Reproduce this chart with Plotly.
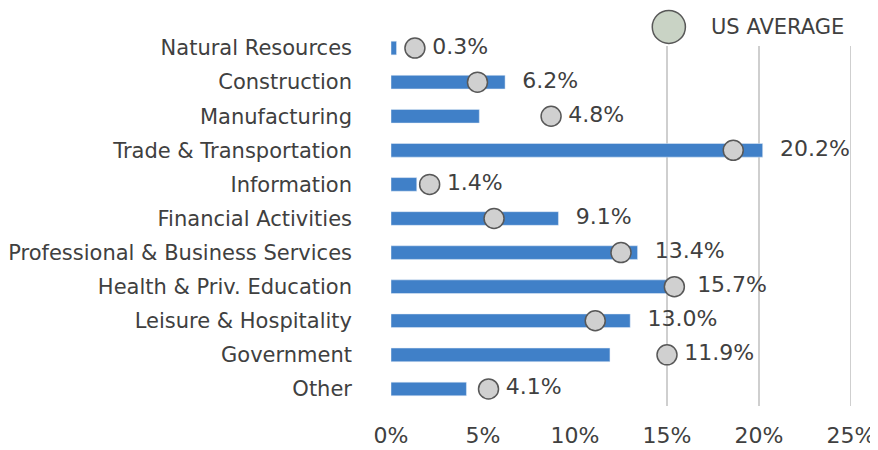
import plotly.graph_objects as go

categories = ["Natural Resources", "Construction", "Manufacturing", "Trade & Transportation",
              "Information", "Financial Activities", "Professional & Business Services",
              "Health & Priv. Education", "Leisure & Hospitality", "Government", "Other"]
local_share = [0.3, 6.2, 4.8, 20.2, 1.4, 9.1, 13.4, 15.7, 13.0, 11.9, 4.1]
us_average = [1.3, 4.7, 8.7, 18.6, 2.1, 5.6, 12.5, 15.4, 11.1, 15.0, 5.3]
x_ticks = [0, 5, 10, 15, 20, 25]
x_tick_labels = ["0%", "5%", "10%", "15%", "20%", "25%"]
grid_ticks = [15, 20, 25]
legend_label = "US AVERAGE"

FONT = "DejaVu Sans"
TXT = "#404040"

label_x = [max(a, b) for a, b in zip(local_share, us_average)]
label_text = [f"{v:.1f}%" for v in local_share]

fig = go.Figure()
fig.add_trace(go.Bar(
    y=categories, x=local_share, orientation="h",
    marker=dict(color="#4080C8"), showlegend=False,
))
fig.add_trace(go.Scatter(
    y=categories, x=us_average, mode="markers",
    marker=dict(size=20, color="#D0D0D0", line=dict(color="#585858", width=1.5)),
    showlegend=False,
))
fig.add_trace(go.Scatter(
    y=categories, x=label_x, mode="markers+text",
    marker=dict(size=26, color="rgba(0,0,0,0)"),
    text=label_text, textposition="middle right",
    textfont=dict(family=FONT, size=22, color=TXT),
    showlegend=False, cliponaxis=False,
))

for g in grid_ticks:
    fig.add_shape(type="line", xref="x", yref="paper", x0=g, x1=g, y0=0, y1=0.96,
                  line=dict(color="#BFBFBF", width=1.5), layer="below")

# legend drawn manually (large marker)
fig.add_shape(type="circle", xref="x", yref="paper", x0=14.2, x1=16.0, y0=0.967, y1=1.055,
              fillcolor="#C9D3C5", line=dict(color="#585858", width=1.5))
fig.add_annotation(x=17.3, y=1.011, xref="x", yref="paper", text=legend_label,
                   showarrow=False, xanchor="left", yanchor="middle",
                   font=dict(family=FONT, size=21, color=TXT))

# the page adds an 8px body margin, so the figure is sized/offset to compensate
fig.update_layout(
    width=870, height=442,
    margin=dict(l=383, r=27, t=23, b=44),
    paper_bgcolor="white", plot_bgcolor="white",
    bargap=0.6,
    font=dict(family=FONT, size=21, color=TXT),
    xaxis=dict(range=[0, 25], tickvals=x_ticks, ticktext=x_tick_labels, showgrid=False,
               zeroline=False, showline=False, ticks="", ticklabelstandoff=14,
               automargin=False, tickfont=dict(family=FONT, size=22, color=TXT)),
    yaxis=dict(categoryorder="array", categoryarray=categories, range=[10.5, -0.5],
               showgrid=False, zeroline=False, showline=False, ticks="",
               automargin=False, ticklabelstandoff=38,
               tickfont=dict(family=FONT, size=21, color=TXT)),
)

fig.write_html("out.html")
